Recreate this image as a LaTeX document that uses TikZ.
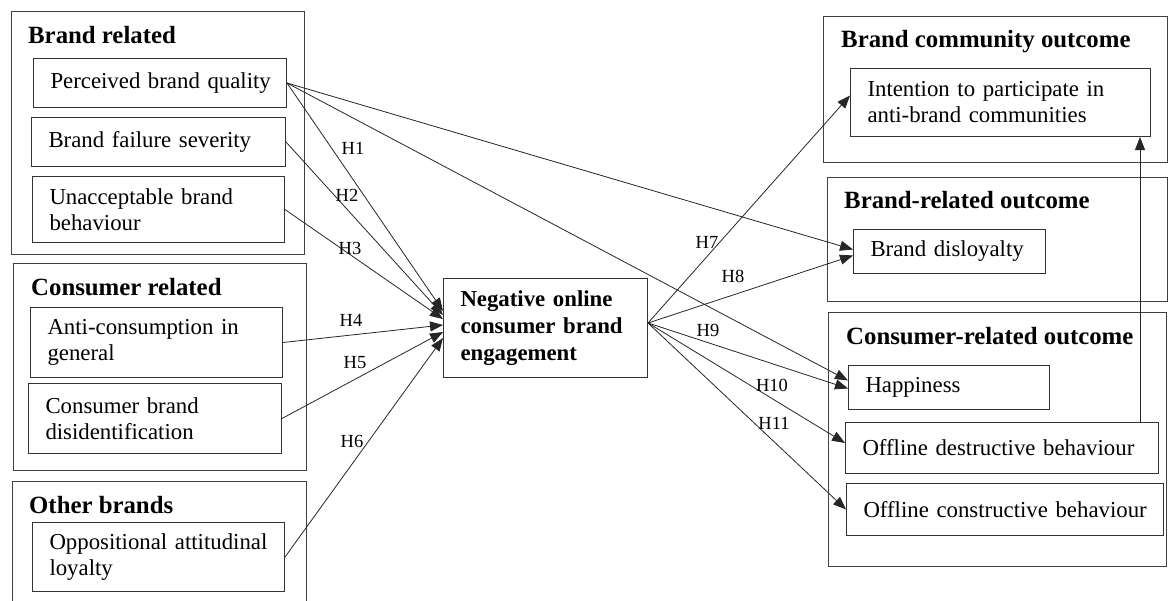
\documentclass[tikz,border=0pt]{standalone}
\usepackage{fontspec}
\setmainfont{Liberation Serif}
\usetikzlibrary{arrows.meta,calc}
\begin{document}
\begin{tikzpicture}[x=1pt,y=-1pt,
  box/.style={draw=black!80, line width=1pt, rectangle, anchor=north west,
    inner xsep=17pt, inner ysep=0pt, align=left,
    font=\fontsize{22.8}{26}\selectfont},
  grp/.style={draw=black!75, line width=1pt, rectangle, anchor=north west, inner sep=0pt},
  ttl/.style={anchor=base west, inner sep=0pt, font=\bfseries\fontsize{24.8}{28}\selectfont},
  hl/.style={inner sep=0pt, font=\fontsize{18.5}{21}\selectfont},
  arr/.style={-{Triangle[length=13pt,width=10pt]}, line width=0.8pt, draw=black!85},
  grpline/.style={draw=black!75, line width=1pt}]
\useasboundingbox (0,0) rectangle (1169,600);

% group frames
\node[grp, minimum width=293, minimum height=243] (g1) at (11,11) {};
\node[grp, minimum width=293, minimum height=207] (g2) at (13,263) {};
\draw[grpline] (12,601) -- (12,481) -- (306,481) -- (306,601);
\node[grp, minimum width=344, minimum height=146] (g4) at (823,16) {};
\node[grp, minimum width=340, minimum height=124] (g5) at (827,177) {};
\node[grp, minimum width=338, minimum height=254] (g6) at (828,312) {};

% group titles
\node[ttl] (t1) at (28,43) {Brand related};
\node[ttl] (t2) at (31,295) {Consumer related};
\node[ttl] (t3) at (29,513) {Other brands};
\node[ttl] (t4) at (841,47) {Brand community outcome};
\node[ttl] (t5) at (844,208) {Brand-related outcome};
\node[ttl] (t6) at (846,344) {Consumer-related outcome};

% left boxes
\node[box, minimum width=253, minimum height=49, text width=219] (pbq) at (33,58) {\mbox{Perceived brand quality}};
\node[box, minimum width=254, minimum height=49, text width=220] (bfs) at (31,117) {\mbox{Brand failure severity}};
\node[box, minimum width=252, minimum height=66, text width=218] (uab) at (32,176) {\mbox{Unacceptable brand}\\\mbox{behaviour}};
\node[box, minimum width=252, minimum height=70, text width=218] (acg) at (30,307) {\mbox{Anti-consumption in}\\\mbox{general}};
\node[box, minimum width=253, minimum height=70, text width=219] (cbd) at (28,383) {\mbox{Consumer brand}\\\mbox{disidentification}};
\node[box, minimum width=252, minimum height=69, text width=218] (oal) at (32,522) {\mbox{Oppositional attitudinal}\\\mbox{loyalty}};

% central box
\node[box, minimum width=204, minimum height=99, text width=170,
  font=\bfseries\fontsize{22.8}{27}\selectfont] (neg) at (443,278)
  {\mbox{Negative online}\\\mbox{consumer brand}\\\mbox{engagement}};

% right boxes
\node[box, minimum width=300, minimum height=68, text width=266] (int) at (850,68) {\mbox{Intention to participate in}\\\mbox{anti-brand communities}};
\node[box, minimum width=192, minimum height=44, text width=158] (dis) at (853,229) {\mbox{Brand disloyalty}};
\node[box, minimum width=201, minimum height=44, text width=167] (hap) at (848,365) {\mbox{Happiness}};
\node[box, minimum width=313, minimum height=51, text width=279] (odes) at (845,422) {\mbox{Offline destructive behaviour}};
\node[box, minimum width=317, minimum height=52, text width=283] (ocons) at (846,483) {\mbox{Offline constructive behaviour}};

% connector end points
\coordinate (e1) at ($(neg.west)+(0,-17)$);
\coordinate (e2) at ($(neg.west)+(0,-13)$);
\coordinate (e3) at ($(neg.west)+(0,-9)$);
\coordinate (e4) at ($(neg.west)+(0,-3)$);
\coordinate (e5) at ($(neg.west)+(0,4)$);
\coordinate (e6) at ($(neg.west)+(0,10)$);
\coordinate (nout) at ($(neg.east)+(0,-5)$);
\coordinate (r7) at ($(int.west)+(0,-7)$);
\coordinate (r8) at ($(dis.west)+(0,4)$);
\coordinate (rp1) at ($(dis.west)+(0,-2)$);
\coordinate (r9) at ($(hap.west)+(0,1)$);
\coordinate (rp2) at ($(hap.west)+(0,-7)$);
\coordinate (r10) at ($(odes.west)+(0,-5)$);
\coordinate (r11) at (ocons.west);
\coordinate (vx) at (1140,0);

% connectors
\draw[arr] (pbq.east) -- (e1);
\draw[arr] (bfs.east) -- (e2);
\draw[arr] (uab.east) -- (e3);
\draw[arr] (acg.east) -- (e4);
\draw[arr] (cbd.east) -- (e5);
\draw[arr] (oal.east) -- (e6);
\draw[arr] (pbq.east) -- (rp1);
\draw[arr] (pbq.east) -- (rp2);
\draw[arr] (nout) -- (r7);
\draw[arr] (nout) -- (r8);
\draw[arr] (nout) -- (r9);
\draw[arr] (nout) -- (r10);
\draw[arr] (nout) -- (r11);
\draw[arr] (odes.north -| vx) -- (int.south -| vx);

% labels
\node[hl] (h1) at (353,148) {H1};
\node[hl] (h2) at (347,195) {H2};
\node[hl] (h3) at (350,248) {H3};
\node[hl] (h4) at (351,320) {H4};
\node[hl] (h5) at (355,363) {H5};
\node[hl] (h6) at (352,441) {H6};
\node[hl] (h7) at (707,242) {H7};
\node[hl] (h8) at (733,276) {H8};
\node[hl] (h9) at (708,330) {H9};
\node[hl] (h10) at (772,385) {H10};
\node[hl] (h11) at (774,423) {H11};
\end{tikzpicture}
\end{document}
